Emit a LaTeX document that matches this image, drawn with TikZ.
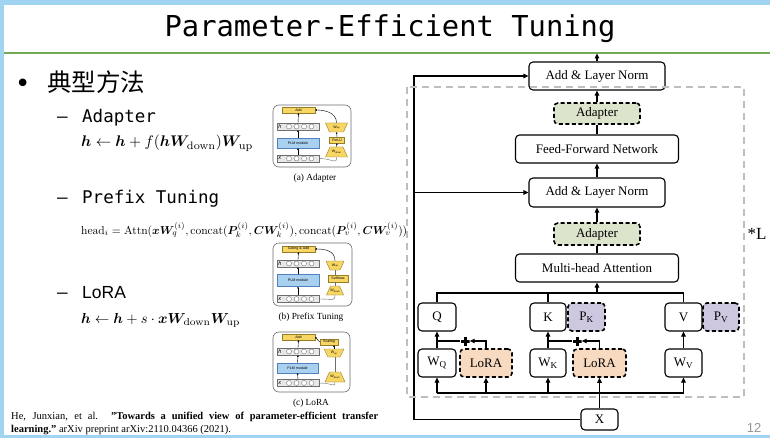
\documentclass[tikz,border=0pt]{standalone}
\usepackage[no-math]{fontspec}
\usepackage{amsmath,bm,graphicx}
\usetikzlibrary{arrows.meta,calc}
\setmainfont{Liberation Serif}
\newfontfamily\monof{DejaVu Sans Mono}
\newfontfamily\cjkf{Noto Sans CJK SC}
\newfontfamily\arialf{Liberation Sans}
\newfontfamily\dvsans{DejaVu Sans}

\definecolor{skyb}{RGB}{160,212,240}
\definecolor{titlegreen}{RGB}{112,170,84}
\definecolor{adapterfill}{RGB}{221,228,204}
\definecolor{lorafill}{RGB}{248,218,192}
\definecolor{pfill}{RGB}{205,200,224}
\definecolor{dashgray}{RGB}{190,190,190}
\definecolor{yelfill}{RGB}{247,214,100}
\definecolor{yeldraw}{RGB}{150,125,40}
\definecolor{plmfill}{RGB}{170,208,240}
\definecolor{plmdraw}{RGB}{80,130,190}
\definecolor{rowfill}{RGB}{232,232,232}
\definecolor{rowdraw}{RGB}{110,110,110}
\definecolor{pagegray}{RGB}{150,150,150}

\newcommand\sq{\symbol{34}}
\newcommand\tsub[1]{\raisebox{-0.6pt}{\fontsize{2.4}{3}\selectfont #1}}
\newcommand\thumbrow[4]{%
  \node[rowbox] (#1) at ({#2+21},#3) {};
  \node[tinyit, anchor=west] (#1-lab) at ({#2+1.2},#3) {#4};
  \foreach \k in {0,...,3} \draw[rowdraw, line width=0.35pt, fill=white] ({#2+12+\k*7.5},#3) circle (2.5pt);
}
\newcommand\trap[7]{%
  \draw[yelline] ({#2-#4/2},{#3-#6/2}) -- ({#2+#4/2},{#3-#6/2}) -- ({#2+#5/2},{#3+#6/2}) -- ({#2-#5/2},{#3+#6/2}) -- cycle;
  \node[tiny, minimum width=#4pt, minimum height=#6pt] (#1) at (#2,#3) {#7};
}

\tikzset{
  box/.style={draw, rounded corners=4pt, line width=1.1pt, fill=white, inner sep=0pt, align=center, font=\fontsize{13}{15}\selectfont},
  dbox/.style={box, dash pattern=on 4pt off 2.5pt, line width=1.6pt},
  arr/.style={line width=1.1pt, -{Triangle[length=5pt,width=4.5pt]}},
  conn/.style={line width=1.1pt},
  plusn/.style={minimum size=9pt, inner sep=0pt, path picture={
      \draw[line width=3pt] (path picture bounding box.north) -- (path picture bounding box.south)
                            (path picture bounding box.west) -- (path picture bounding box.east);}},
  lefttext/.style={anchor=base west, inner sep=0pt},
  tiny/.style={font=\arialf\fontsize{3.6}{4}\selectfont, inner sep=0pt, align=center},
  tinyit/.style={font=\arialf\itshape\fontsize{5.5}{6}\selectfont, inner sep=0pt},
  yelbox/.style={tiny, draw=yeldraw, fill=yelfill, line width=0.4pt},
  yelline/.style={draw=yeldraw, fill=yelfill, line width=0.4pt},
  plmbox/.style={tiny, draw=plmdraw, fill=plmfill, line width=0.4pt},
  rowbox/.style={draw=rowdraw, fill=rowfill, line width=0.4pt, minimum width=42pt, minimum height=7pt, inner sep=0pt},
  frame/.style={draw=rowdraw, line width=0.6pt, rounded corners=6pt},
  tarr/.style={line width=0.4pt, -{Triangle[length=1.6pt,width=1.6pt]}},
  tline/.style={line width=0.4pt, draw=rowdraw},
  caption/.style={font=\fontsize{9.3}{11}\selectfont, inner sep=0pt}
}

\begin{document}
\begin{tikzpicture}[x=1pt, y=-1pt]
\useasboundingbox (0,0) rectangle (770,438);
% slide background
\fill[skyb] (0,0) rectangle (770,438);
\fill[white] (4,5) rectangle (770,435);

% title
\node[anchor=base, inner sep=0pt, font=\monof\fontsize{28.8}{30}\selectfont] (title) at (390,37) {Parameter-Efficient Tuning};
\draw[titlegreen, line width=2pt] (4,53) -- (770,53);

% left text
\node[lefttext, font=\dvsans\fontsize{26}{28}\selectfont] (bullet) at (15,92.5) {•};
\node[lefttext, font=\cjkf\fontsize{24.5}{28}\selectfont] (heading) at (47,92) {典型方法};

\node[lefttext, font=\monof\fontsize{17.5}{20}\selectfont] (dash1) at (57,123) {–};
\node[lefttext, font=\monof\fontsize{17.5}{20}\selectfont] (adaptertxt) at (82,123) {Adapter};
\node[lefttext] (adapterfml) at (81,147) {\resizebox{172pt}{!}{$\boldsymbol{h} \leftarrow \boldsymbol{h} + f(\boldsymbol{h}\boldsymbol{W}_{\mathrm{down}})\boldsymbol{W}_{\mathrm{up}}$}};

\node[lefttext, font=\monof\fontsize{17.5}{20}\selectfont] (dash2) at (57,204) {–};
\node[lefttext, font=\monof\fontsize{17.5}{20}\selectfont] (prefixtxt) at (82,204) {Prefix Tuning};
\node[lefttext] (prefixfml) at (81,234) {\resizebox{326pt}{!}{$\mathrm{head}_i = \mathrm{Attn}(\boldsymbol{x}\boldsymbol{W}_q^{(i)}, \mathrm{concat}(\boldsymbol{P}_k^{(i)}, \boldsymbol{C}\boldsymbol{W}_k^{(i)}), \mathrm{concat}(\boldsymbol{P}_v^{(i)}, \boldsymbol{C}\boldsymbol{W}_v^{(i)}))$}};

\node[lefttext, font=\monof\fontsize{17.5}{20}\selectfont] (dash3) at (57,298) {–};
\node[lefttext, font=\arialf\fontsize{17.5}{20}\selectfont] (loratxt) at (82,298) {LoRA};
\node[lefttext] (lorafml) at (81,323) {\resizebox{159pt}{!}{$\boldsymbol{h} \leftarrow \boldsymbol{h} + s\cdot \boldsymbol{x}\boldsymbol{W}_{\mathrm{down}}\boldsymbol{W}_{\mathrm{up}}$}};

% citation
\node[lefttext, font=\fontsize{10.5}{12}\selectfont] (cite1) at (11,419) {\makebox[367pt][s]{He, Junxian, et al. \textbf{\sq Towards a unified view of parameter-efficient transfer}}};
\node[lefttext, font=\fontsize{10.5}{12}\selectfont] (cite2) at (11,432) {\textbf{learning.\sq} arXiv preprint arXiv:2110.04366 (2021).};

% ---------- thumbnail (a) Adapter ----------
\draw[frame] (273,105) rectangle (351,167);
\node[yelbox, minimum width=33pt, minimum height=6pt] (a-add) at (298.5,110) {Add};
\thumbrow{a-h}{277}{126.5}{h}
\node[plmbox, minimum width=42pt, minimum height=10pt] (a-plm) at (298,143) {PLM module};
\thumbrow{a-x}{277}{158.5}{x}
\draw[tarr] (a-x.north) -- (a-plm.south);
\draw[tarr] (a-plm.north) -- (a-h.south);
\draw[tarr] (a-h.north) -- (a-add.south);
\trap{a-wup}{336.5}{127.5}{22}{14}{9}{W\tsub{up}}
\node[yelbox, minimum width=15pt, minimum height=6pt] (a-relu) at (337,140) {ReLU};
\trap{a-wdown}{336.5}{152}{13}{22}{10}{W\tsub{down}}
\draw[tarr] (a-wdown.north) -- (a-relu.south);
\draw[tarr] (a-relu.north) -- (a-wup.south);
\draw[tarr] (a-wup.north) .. controls +(0,-10) and +(10,0) .. (a-add.east);
\draw[tline] (a-x.east) .. controls +(14,0) and +(0,8) .. (a-wdown.south);
\node[caption] (a-cap) at (315,178) {(a) Adapter};

% ---------- thumbnail (b) Prefix Tuning ----------
\draw[frame] (273,243) rectangle (352,306);
\node[yelbox, minimum width=33pt, minimum height=6pt] (b-gate) at (298.5,249) {Gating \& Add};
\thumbrow{b-h}{277}{263.5}{h}
\node[plmbox, minimum width=42pt, minimum height=12pt] (b-plm) at (298,280.5) {PLM module};
\thumbrow{b-x}{277}{299}{x}
\draw[tarr] (b-x.north) -- (b-plm.south);
\draw[tarr] (b-plm.north) -- (b-h.south);
\draw[tarr] (b-h.north) -- (b-gate.south);
\trap{b-wup}{335}{265.5}{18}{10}{9}{W\tsub{up}}
\node[yelbox, minimum width=20pt, minimum height=7pt] (b-soft) at (338,278.5) {Softmax};
\trap{b-wdown}{335}{290.5}{9}{17}{9}{W\tsub{down}}
\draw[tline] (b-wdown.north) -- (b-wdown.north |- b-soft.south);
\draw[tline] (b-soft.north -| b-wup.south) -- (b-wup.south);
\draw[tarr] (b-wup.north) .. controls +(0,-10) and +(10,0) .. (b-gate.east);
\draw[tline] (b-x.east) .. controls +(14,0) and +(0,6) .. (b-wdown.south);
\node[caption] (b-cap) at (311,317) {(b) Prefix Tuning};

% ---------- thumbnail (c) LoRA ----------
\draw[frame] (273,332) rectangle (350,392);
\node[yelbox, minimum width=33pt, minimum height=6pt] (c-add) at (298.5,337) {Add};
\node[yelbox, minimum width=18pt, minimum height=6pt] (c-scale) at (329,342) {Scaling};
\thumbrow{c-h}{277}{351.5}{h}
\node[plmbox, minimum width=41pt, minimum height=10pt] (c-plm) at (297.5,368) {PLM module};
\thumbrow{c-x}{277}{383}{x}
\draw[tarr] (c-x.north) -- (c-plm.south);
\draw[tarr] (c-plm.north) -- (c-h.south);
\draw[tarr] (c-h.north) -- (c-add.south);
\trap{c-wup}{334}{353}{20}{12}{8}{W\tsub{up}}
\trap{c-wdown}{335}{377}{11}{20}{10}{W\tsub{down}}
\draw[tarr] (c-scale.west) -- (c-add.east);
\draw[tarr] (c-wup.north) -- (c-wup.north |- c-scale.south);
\draw[tline] (c-wdown.north) -- (c-wdown.north |- c-wup.south);
\draw[tline] (c-x.east) .. controls +(14,0) and +(0,6) .. (c-wdown.south);
\node[caption] (c-cap) at (311,403) {(c) LoRA};

% ---------- main diagram ----------
\node[box, minimum width=136pt, minimum height=28pt] (addT) at (597,76) {Add \& Layer Norm};
\node[dbox, fill=adapterfill, minimum width=86pt, minimum height=21pt] (adapT) at (597,113.5) {Adapter};
\node[box, minimum width=163pt, minimum height=28pt] (ffn) at (597,149) {Feed-Forward Network};
\node[box, minimum width=136pt, minimum height=29pt] (addM) at (597,192.5) {Add \& Layer Norm};
\node[dbox, fill=adapterfill, minimum width=86pt, minimum height=22pt] (adapM) at (597,234) {Adapter};
\node[box, minimum width=163pt, minimum height=28pt] (mha) at (597,268) {Multi-head Attention};

\node[box, minimum width=38pt, minimum height=28pt] (q) at (437,317) {Q};
\node[box, minimum width=36pt, minimum height=28pt] (k) at (548,317) {K};
\node[dbox, fill=pfill, minimum width=37pt, minimum height=28pt] (pk) at (586.5,317) {P\textsubscript{K}};
\node[box, minimum width=37pt, minimum height=28pt] (v) at (683.5,317) {V};
\node[dbox, fill=pfill, minimum width=36pt, minimum height=28pt] (pv) at (721,317) {P\textsubscript{V}};

\node[box, minimum width=38pt, minimum height=28pt] (wq) at (437,363) {W\textsubscript{Q}};
\node[dbox, fill=lorafill, minimum width=52pt, minimum height=28pt] (lora1) at (486,363) {LoRA};
\node[box, minimum width=36pt, minimum height=28pt] (wk) at (548,363) {W\textsubscript{K}};
\node[dbox, fill=lorafill, minimum width=53pt, minimum height=28pt] (lora2) at (599.5,363) {LoRA};
\node[box, minimum width=37pt, minimum height=28pt] (wv) at (683.5,363) {W\textsubscript{V}};

\node[box, minimum width=37pt, minimum height=21pt] (xin) at (599.5,419.5) {X};

\node[plusn] (plus1) at (465,341) {};
\node[plusn] (plus2) at (577,341) {};

% input bus
\coordinate (bus) at (0,393);
\draw[conn] (wq.south |- bus) -- (wv.south |- bus);
\foreach \n in {wq,lora1,wk,wv} \draw[arr] (\n.south |- bus) -- (\n.south);
\draw[line width=1.8pt, -{Triangle[length=5pt,width=4.5pt]}] (xin.north) -- (lora2.south);

% LoRA merges
\draw[arr] (lora1.north) |- (plus1.east);
\draw[conn] (plus1.west) -- (plus1.west -| wq.north);
\draw[arr] (wq.north) -- (q.south);
\draw[arr] (lora2.north) |- (plus2.east);
\draw[conn] (plus2.west) -- (plus2.west -| wk.north);
\draw[arr] (wk.north) -- (k.south);
\draw[arr] (wv.north) -- (v.south);

% Q K V into attention
\coordinate (qkv) at (597,293);
\draw[conn] (q.north) |- (qkv) -| (v.north);
\draw[conn] (k.north) -- (k.north |- qkv);
\draw[arr] (qkv) -- (mha.south);

% upper chain
\draw[conn] (mha.north) -- (adapM.south);
\draw[arr] (adapM.north) -- (addM.south);
\draw[arr] (addM.north) -- (ffn.south);
\draw[conn] (ffn.north) -- (adapT.south);
\draw[arr] (adapT.north) -- (addT.south);
\coordinate (outp) at (597,53.5);
\draw[arr] (addT.north) -- (outp);

% residual skip
\coordinate (skx) at (414,0);
\draw[arr] (xin.west) -- (xin.west -| skx) |- (addT.west);
\draw[arr] (xin.west -| skx) |- (addM.west);

% layer frame
\draw[dashgray, line width=1.8pt, dash pattern=on 7pt off 5pt] (407,87) rectangle (744,397);
\node[font=\fontsize{17}{19}\selectfont, inner sep=0pt] (starL) at (757,234) {*L};
\node[font=\arialf\fontsize{13}{15}\selectfont, text=pagegray, inner sep=0pt] (pagenum) at (754,427.5) {12};
\end{tikzpicture}
\end{document}
